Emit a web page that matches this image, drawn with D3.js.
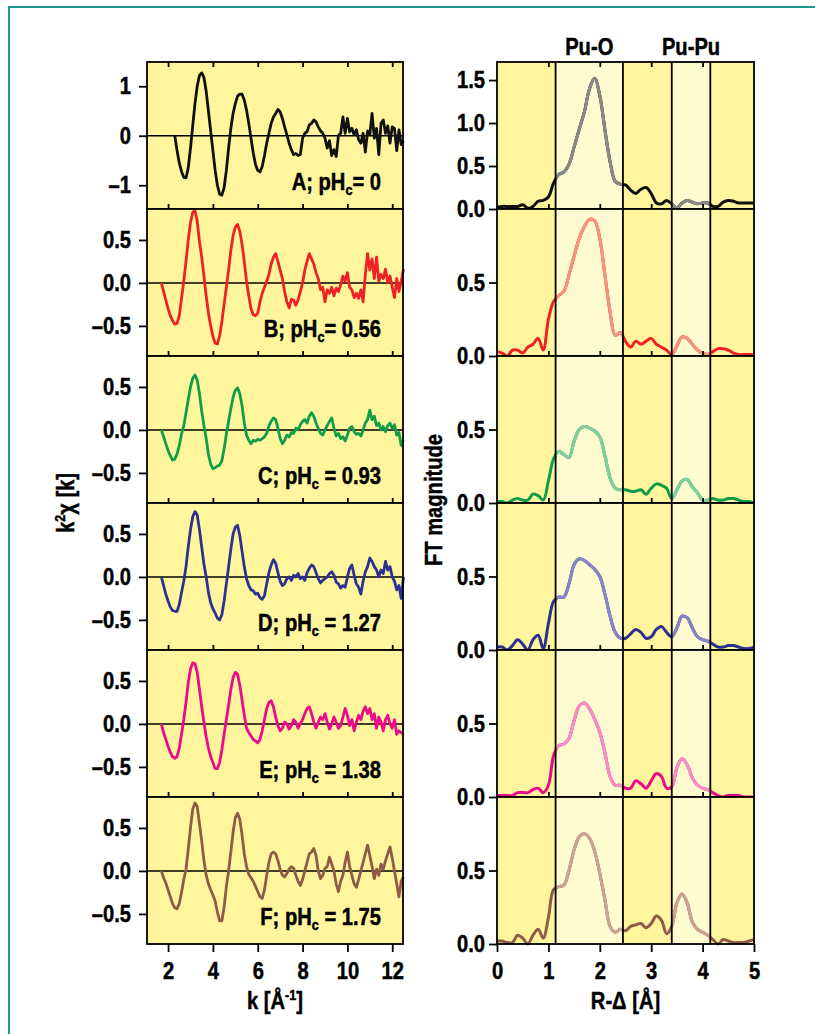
<!DOCTYPE html>
<html>
<head>
<meta charset="utf-8">
<script src="https://cdnjs.cloudflare.com/ajax/libs/d3/7.8.5/d3.min.js"></script>
<style>
body{margin:0;background:#fff;}
text{font-family:"Liberation Sans",Arial,sans-serif;font-weight:bold;stroke:#000;stroke-width:0.5px;}
</style>
</head>
<body>
<script>
// panel letters, pHc values and colours
var panelIds = ['A','B','C','D','E','F'];
var phValues = ['0','0.56','0.93','1.27','1.38','1.75'];
var lineColors = ['#111111','#ee2124','#0f9d4a','#2b3190','#ec0a8c','#8e5b48'];
var paleColors = ['#8a8a8a','#f49580','#80cf9f','#8786c8','#f590c6','#caa496'];

// k grid start for each EXAFS spectrum (step 0.1 up to 12.5)
var kStart = [2.3,1.7,1.7,1.7,1.7,1.7];

var chiA = [0.00,-0.30,-0.55,-0.72,-0.84,-0.85,-0.65,-0.25,0.20,0.65,
  1.00,1.22,1.27,1.18,0.90,0.50,0.10,-0.30,-0.70,-1.00,
  -1.18,-1.20,-1.05,-0.70,-0.25,0.15,0.45,0.65,0.80,0.84,
  0.84,0.72,0.52,0.25,-0.05,-0.35,-0.58,-0.70,-0.73,-0.62,
  -0.40,-0.15,0.05,0.25,0.38,0.45,0.53,0.48,0.35,0.18,
  0.02,-0.15,-0.28,-0.38,-0.36,-0.40,-0.38,-0.05,0.05,0.08,
  0.22,0.25,0.32,0.28,0.18,0.10,0.05,-0.05,-0.25,-0.10,
  -0.40,-0.28,-0.42,0.00,0.05,0.38,0.05,0.35,0.08,0.15,
  0.02,0.12,-0.08,-0.15,0.05,-0.33,0.10,0.02,0.45,-0.05,
  0.15,-0.38,0.25,0.32,0.05,0.20,-0.15,0.18,0.15,-0.30,
  0.12,-0.18,-0.10];
var chiB = [0.00,-0.10,-0.20,-0.30,-0.38,-0.44,-0.48,-0.47,-0.38,-0.18,
  0.02,0.25,0.50,0.70,0.82,0.84,0.72,0.48,0.30,0.08,
  -0.15,-0.35,-0.50,-0.62,-0.70,-0.71,-0.62,-0.45,-0.25,-0.05,
  0.15,0.38,0.55,0.65,0.68,0.60,0.45,0.25,0.02,-0.15,
  -0.30,-0.37,-0.38,-0.35,-0.22,-0.12,-0.05,0.02,0.10,0.22,
  0.30,0.34,0.25,0.15,0.05,-0.10,-0.22,-0.29,-0.19,-0.20,
  -0.26,-0.20,-0.10,0.00,0.15,0.25,0.34,0.28,0.22,0.12,
  0.05,-0.08,-0.05,-0.22,-0.08,-0.12,-0.05,-0.15,-0.06,-0.10,
  -0.02,0.08,0.02,0.12,-0.05,-0.08,-0.17,-0.12,-0.18,-0.08,
  -0.22,0.10,0.34,0.15,0.28,0.05,0.30,0.02,0.10,0.05,
  0.16,0.00,0.08,-0.05,-0.17,0.05,-0.10,0.02,0.16];
var chiC = [0.00,-0.08,-0.16,-0.24,-0.30,-0.35,-0.34,-0.28,-0.18,-0.05,
  0.05,0.20,0.35,0.50,0.60,0.64,0.58,0.42,0.22,0.05,
  -0.10,-0.28,-0.40,-0.45,-0.44,-0.42,-0.41,-0.36,-0.22,-0.05,
  0.10,0.25,0.38,0.46,0.49,0.42,0.28,0.08,-0.06,-0.12,
  -0.16,-0.12,-0.13,-0.11,-0.12,-0.10,-0.08,-0.04,0.05,0.10,
  0.14,0.12,0.02,-0.10,-0.16,-0.12,-0.06,-0.08,-0.03,-0.04,
  0.02,0.00,0.06,0.10,0.12,0.08,0.16,0.20,0.16,0.08,
  0.02,-0.04,-0.06,0.00,0.05,0.10,0.14,0.02,-0.07,-0.04,
  -0.10,-0.08,-0.13,-0.06,0.02,0.04,-0.02,-0.05,-0.04,-0.07,
  0.00,0.08,0.12,0.23,0.12,0.16,0.05,0.08,0.00,0.04,
  -0.02,0.05,0.08,0.02,0.06,-0.06,-0.03,-0.18,-0.12];
var chiD = [0.00,-0.10,-0.20,-0.28,-0.35,-0.39,-0.40,-0.40,-0.32,-0.18,
  -0.05,0.12,0.35,0.55,0.70,0.76,0.72,0.55,0.35,0.15,
  0.00,-0.18,-0.30,-0.37,-0.42,-0.48,-0.50,-0.44,-0.28,-0.08,
  0.12,0.32,0.50,0.58,0.60,0.48,0.30,0.12,-0.02,-0.10,
  -0.15,-0.16,-0.20,-0.19,-0.24,-0.26,-0.22,-0.08,0.05,0.14,
  0.20,0.16,0.05,-0.05,-0.10,-0.08,-0.02,0.00,-0.04,0.02,
  0.00,0.04,-0.02,0.00,-0.04,0.05,0.10,0.14,0.12,0.05,
  -0.02,-0.07,-0.04,-0.02,0.00,0.04,0.06,0.02,-0.06,-0.08,
  -0.13,-0.10,-0.12,0.00,0.10,0.14,0.02,-0.08,-0.12,-0.20,
  -0.05,0.06,0.12,0.22,0.18,0.12,0.08,0.00,0.08,0.04,
  0.18,0.08,0.12,0.00,-0.05,-0.15,-0.10,-0.25,0.00];
var chiE = [0.00,-0.10,-0.18,-0.26,-0.33,-0.38,-0.40,-0.38,-0.28,-0.12,
  0.05,0.25,0.48,0.64,0.71,0.70,0.60,0.40,0.20,0.02,
  -0.15,-0.28,-0.38,-0.45,-0.52,-0.52,-0.45,-0.30,-0.12,0.05,
  0.22,0.40,0.54,0.60,0.58,0.45,0.28,0.10,-0.05,-0.10,
  -0.14,-0.18,-0.20,-0.22,-0.18,-0.08,0.05,0.18,0.25,0.27,
  0.20,0.08,-0.02,-0.08,-0.05,0.02,0.00,-0.06,-0.02,0.05,
  0.02,-0.05,0.00,0.05,0.12,0.18,0.20,0.12,0.02,-0.05,
  0.02,0.08,0.05,0.12,0.02,-0.06,0.00,0.08,0.02,-0.05,
  -0.02,0.08,0.18,0.10,-0.02,0.05,-0.08,0.02,0.10,0.05,
  0.15,0.20,0.12,0.18,0.05,0.12,-0.05,0.08,0.02,-0.08,
  0.05,0.10,0.00,-0.05,0.05,-0.12,-0.08,-0.10,-0.12];
var chiF = [0.00,-0.08,-0.14,-0.22,-0.30,-0.38,-0.43,-0.44,-0.38,-0.25,
  -0.10,0.02,0.25,0.50,0.72,0.79,0.75,0.55,0.35,0.12,
  -0.05,-0.15,-0.22,-0.28,-0.35,-0.48,-0.58,-0.58,-0.42,-0.18,
  0.00,0.22,0.45,0.62,0.67,0.60,0.42,0.20,0.05,-0.04,
  -0.08,-0.12,-0.18,-0.24,-0.30,-0.32,-0.22,-0.05,0.10,0.20,
  0.22,0.20,0.12,0.02,-0.05,-0.07,-0.03,0.02,0.05,0.03,
  -0.05,-0.12,-0.17,-0.10,0.00,0.10,0.20,0.22,0.26,0.18,
  0.00,-0.09,-0.05,0.03,0.05,0.16,0.08,0.00,-0.15,-0.24,
  -0.12,-0.05,0.10,0.22,0.05,-0.05,-0.15,-0.19,-0.10,0.00,
  0.10,0.20,0.30,0.18,0.05,-0.09,0.02,-0.05,0.08,0.02,
  0.12,0.20,0.28,0.15,0.00,-0.15,-0.30,-0.12,-0.07];

// FT magnitude, R-delta from 0 to 5 by 0.1
var ftA = [0.02,0.03,0.03,0.03,0.03,0.05,0.01,0.03,0.09,0.10,
  0.14,0.30,0.40,0.43,0.52,0.72,0.93,1.13,1.40,1.52,
  1.32,0.92,0.55,0.32,0.29,0.28,0.22,0.18,0.23,0.25,
  0.18,0.07,0.06,0.10,0.06,0.01,0.07,0.10,0.08,0.06,
  0.07,0.07,0.03,0.03,0.08,0.10,0.09,0.07,0.07,0.07,
  0.07];
var ftB = [0.03,0.02,0.00,0.04,0.04,0.02,0.06,0.08,0.12,0.04,
  0.25,0.37,0.41,0.44,0.55,0.68,0.80,0.88,0.93,0.92,
  0.80,0.55,0.30,0.14,0.16,0.10,0.06,0.10,0.08,0.10,
  0.12,0.08,0.06,0.04,0.01,0.07,0.13,0.12,0.08,0.04,
  0.02,0.01,0.03,0.05,0.05,0.04,0.02,0.01,0.01,0.01,
  0.01];
var ftC = [0.01,0.01,0.00,0.02,0.03,0.02,0.02,0.06,0.05,0.02,
  0.15,0.30,0.35,0.33,0.31,0.42,0.50,0.52,0.51,0.49,
  0.45,0.32,0.17,0.10,0.09,0.09,0.08,0.08,0.09,0.06,
  0.10,0.13,0.12,0.10,0.03,0.09,0.15,0.16,0.11,0.07,
  0.02,0.02,0.03,0.02,0.02,0.03,0.03,0.02,0.01,0.01,
  0.00];
var ftD = [0.02,0.02,0.00,0.03,0.07,0.04,0.00,0.07,0.10,0.01,
  0.18,0.33,0.36,0.36,0.45,0.58,0.62,0.61,0.58,0.55,
  0.50,0.38,0.23,0.12,0.08,0.08,0.11,0.14,0.12,0.08,
  0.09,0.14,0.16,0.12,0.09,0.15,0.23,0.22,0.15,0.09,
  0.07,0.06,0.04,0.02,0.02,0.03,0.03,0.02,0.01,0.01,
  0.02];
var ftE = [0.01,0.01,0.01,0.01,0.03,0.03,0.03,0.05,0.06,0.03,
  0.08,0.28,0.35,0.36,0.40,0.52,0.62,0.64,0.60,0.53,
  0.44,0.30,0.14,0.08,0.08,0.06,0.06,0.11,0.09,0.06,
  0.11,0.16,0.14,0.06,0.07,0.20,0.26,0.22,0.13,0.08,
  0.06,0.05,0.03,0.01,0.00,0.01,0.01,0.01,0.00,0.00,
  0.00];
var ftF = [0.02,0.02,0.01,0.01,0.06,0.04,0.00,0.06,0.10,0.04,
  0.18,0.37,0.39,0.40,0.50,0.64,0.73,0.75,0.72,0.63,
  0.48,0.30,0.12,0.08,0.10,0.09,0.12,0.13,0.14,0.11,
  0.14,0.19,0.16,0.07,0.12,0.28,0.34,0.28,0.15,0.10,
  0.08,0.06,0.03,0.00,0.03,0.02,0.01,0.01,0.01,0.02,
  0.03];

var chiSeries = [chiA,chiB,chiC,chiD,chiE,chiF];
var ftSeries = [ftA,ftB,ftC,ftD,ftE,ftF];

// fitting windows (R-delta) and their labels
var windows = [[1.14,2.45],[3.40,4.15]];
var windowNames = ['Pu-O','Pu-Pu'];

var kTicks = [2,4,6,8,10,12];
var rTicks = [0,1,2,3,4,5];

var W=815, H=1034;
var lx0=147, lx1=403, rx0=497, rx1=754, top0=62, ph=147;
var fs=24, sub=15, sx=0.84;   // condensed look: horizontal squeeze of the bold sans

var svg = d3.select('body').append('svg').attr('width',W).attr('height',H);

// squeeze a text horizontally, keeping its anchor point
function narrow(sel, pre){
  sel.each(function(){
    var t = d3.select(this);
    var x = +(t.attr('x')||0);
    t.attr('x', x/sx).attr('transform', (pre||'')+'scale('+sx+',1)');
  });
  return sel;
}

// outer teal frame (only top and left visible)
svg.append('path').attr('d','M9,'+H+'V7H'+W)
  .attr('fill','none').attr('stroke','#1f9a8d').attr('stroke-width',2);

var xk = d3.scaleLinear().domain([1.06,12.48]).range([lx0,lx1]);
var xr = d3.scaleLinear().domain([0,5]).range([rx0,rx1]);

var clip = svg.append('defs').append('clipPath').attr('id','win');
windows.forEach(function(w){
  clip.append('rect').attr('x',xr(w[0])).attr('y',0)
    .attr('width',xr(w[1])-xr(w[0])).attr('height',H);
});

function dash(s){ return s.replace(/[-\u2212]/g,'\u2013'); }

function styleAxis(g){
  g.select('.domain').remove();
  g.attr('font-size',fs).attr('font-family',null);
  g.selectAll('line').attr('stroke','#000').attr('stroke-width',1.8);
  narrow(g.selectAll('text').attr('fill','#000'));
  return g;
}

for (var i=0;i<6;i++) {
  var y0 = top0+i*ph, y1 = y0+ph;
  var yl = d3.scaleLinear().domain(i==0?[-1.48,1.49]:[-0.85,0.86]).range([y1,y0]);
  var yr = d3.scaleLinear().domain(i==0?[0,1.71]:[0,1.0]).range([y1,y0]);

  // ---- left: k^2 chi(k)
  svg.append('rect').attr('x',lx0).attr('y',y0).attr('width',lx1-lx0).attr('height',ph)
    .attr('fill','#fff59d');
  svg.append('line').attr('x1',lx0).attr('x2',lx1).attr('y1',yl(0)).attr('y2',yl(0))
    .attr('stroke','#000').attr('stroke-width',1.6);

  var ks = kStart[i];
  var pts = chiSeries[i].map(function(v,j){ return [Math.round((ks+j*0.1)*10)/10, v]; });
  svg.append('path').datum(pts)
    .attr('fill','none').attr('stroke',lineColors[i]).attr('stroke-width',2.8)
    .attr('stroke-linejoin','round')
    .attr('d', d3.line().x(function(d){return xk(d[0]);}).y(function(d){return yl(d[1]);}));

  svg.append('rect').attr('x',lx0).attr('y',y0).attr('width',lx1-lx0).attr('height',ph)
    .attr('fill','none').attr('stroke','#000').attr('stroke-width',1.8);

  var lab = svg.append('text').attr('x',381).attr('y',y0+128).attr('text-anchor','end')
    .attr('font-size',fs).attr('fill','#000');
  lab.append('tspan').text(panelIds[i]+'; pH');
  lab.append('tspan').attr('font-size',sub).attr('dy',5).text('c');
  lab.append('tspan').attr('dy',-5).text((i<2?'= ':' = ')+phValues[i]);
  narrow(lab);

  styleAxis(svg.append('g').attr('transform','translate('+lx0+',0)')
    .call(d3.axisLeft(yl).tickValues(i==0?[-1,0,1]:[-0.5,0,0.5]).tickSize(8).tickPadding(8)
      .tickFormat(function(d){ return dash(i==0?d3.format('d')(d):d3.format('.1f')(d)); })));

  if (i==0) {
    styleAxis(svg.append('g').attr('transform','translate(0,'+y0+')')
      .call(d3.axisTop(xk).tickValues(kTicks).tickSize(-5).tickFormat('')));
  }
  if (i<5) {
    styleAxis(svg.append('g').attr('transform','translate(0,'+y1+')')
      .call(d3.axisBottom(xk).tickValues(kTicks).tickSize(-5).tickFormat('')));
  } else {
    styleAxis(svg.append('g').attr('transform','translate(0,'+y1+')')
      .call(d3.axisBottom(xk).tickValues(kTicks).tickSize(8).tickPadding(10).tickFormat(d3.format('d'))));
  }

  // ---- right: FT magnitude
  svg.append('rect').attr('x',rx0).attr('y',y0).attr('width',rx1-rx0).attr('height',ph)
    .attr('fill','#fff59d');
  windows.forEach(function(w){
    svg.append('rect').attr('x',xr(w[0])).attr('y',y0).attr('width',xr(w[1])-xr(w[0])).attr('height',ph)
      .attr('fill','#fffbd0');
  });
  var fpts = ftSeries[i].map(function(v,j){ return [j/10, v]; });
  var fline = d3.line().curve(d3.curveCatmullRom)
    .x(function(d){return xr(d[0]);}).y(function(d){return yr(d[1]);});
  svg.append('path').datum(fpts).attr('fill','none').attr('stroke',lineColors[i])
    .attr('stroke-width',3).attr('stroke-linejoin','round').attr('d',fline);
  svg.append('path').datum(fpts).attr('fill','none').attr('stroke',paleColors[i])
    .attr('stroke-width',3).attr('stroke-linejoin','round').attr('clip-path','url(#win)').attr('d',fline);

  svg.append('rect').attr('x',rx0).attr('y',y0).attr('width',rx1-rx0).attr('height',ph)
    .attr('fill','none').attr('stroke','#000').attr('stroke-width',1.8);

  styleAxis(svg.append('g').attr('transform','translate('+rx0+',0)')
    .call(d3.axisLeft(yr).tickValues(i==0?[0,0.5,1,1.5]:[0,0.5]).tickSize(8).tickPadding(4)
      .tickFormat(d3.format('.1f'))));

  if (i==0) {
    styleAxis(svg.append('g').attr('transform','translate(0,'+y0+')')
      .call(d3.axisTop(xr).tickValues([1,2,3,4]).tickSize(-5).tickFormat('')));
  }
  if (i<5) {
    styleAxis(svg.append('g').attr('transform','translate(0,'+y1+')')
      .call(d3.axisBottom(xr).tickValues([1,2,3,4]).tickSize(-5).tickFormat('')));
  } else {
    styleAxis(svg.append('g').attr('transform','translate(0,'+y1+')')
      .call(d3.axisBottom(xr).tickValues(rTicks).tickSize(8).tickPadding(10).tickFormat(d3.format('d'))));
  }
}

// window boundaries across all right panels, plus labels on top
windows.forEach(function(w,j){
  w.forEach(function(r){
    svg.append('line').attr('x1',xr(r)).attr('x2',xr(r)).attr('y1',top0).attr('y2',top0+6*ph)
      .attr('stroke','#000').attr('stroke-width',1.8);
  });
  narrow(svg.append('text').attr('x',(xr(w[0])+xr(w[1]))/2).attr('y',55).attr('text-anchor','middle')
    .attr('font-size',fs).text(windowNames[j]));
});

// axis titles
var kt = svg.append('text').attr('x',(lx0+lx1)/2).attr('y',1009).attr('text-anchor','middle').attr('font-size',fs);
kt.append('tspan').text('k [Å');
kt.append('tspan').attr('font-size',sub).attr('dy',-9).text('-1');
kt.append('tspan').attr('dy',9).text(']');
narrow(kt);

narrow(svg.append('text').attr('x',(rx0+rx1)/2).attr('y',1009).attr('text-anchor','middle').attr('font-size',fs)
  .text('R-\u0394 [Å]'));

var yt = svg.append('text').attr('text-anchor','middle').attr('font-size',fs);
yt.append('tspan').text('k');
yt.append('tspan').attr('font-size',sub).attr('dy',-9).text('2');
yt.append('tspan').attr('dy',9).text('\u03c7 [k]');
narrow(yt, 'translate(74,503) rotate(-90) ');

narrow(svg.append('text').attr('text-anchor','middle').attr('font-size',fs).text('FT magnitude'),
  'translate(442,500) rotate(-90) ');
</script>
</body>
</html>
